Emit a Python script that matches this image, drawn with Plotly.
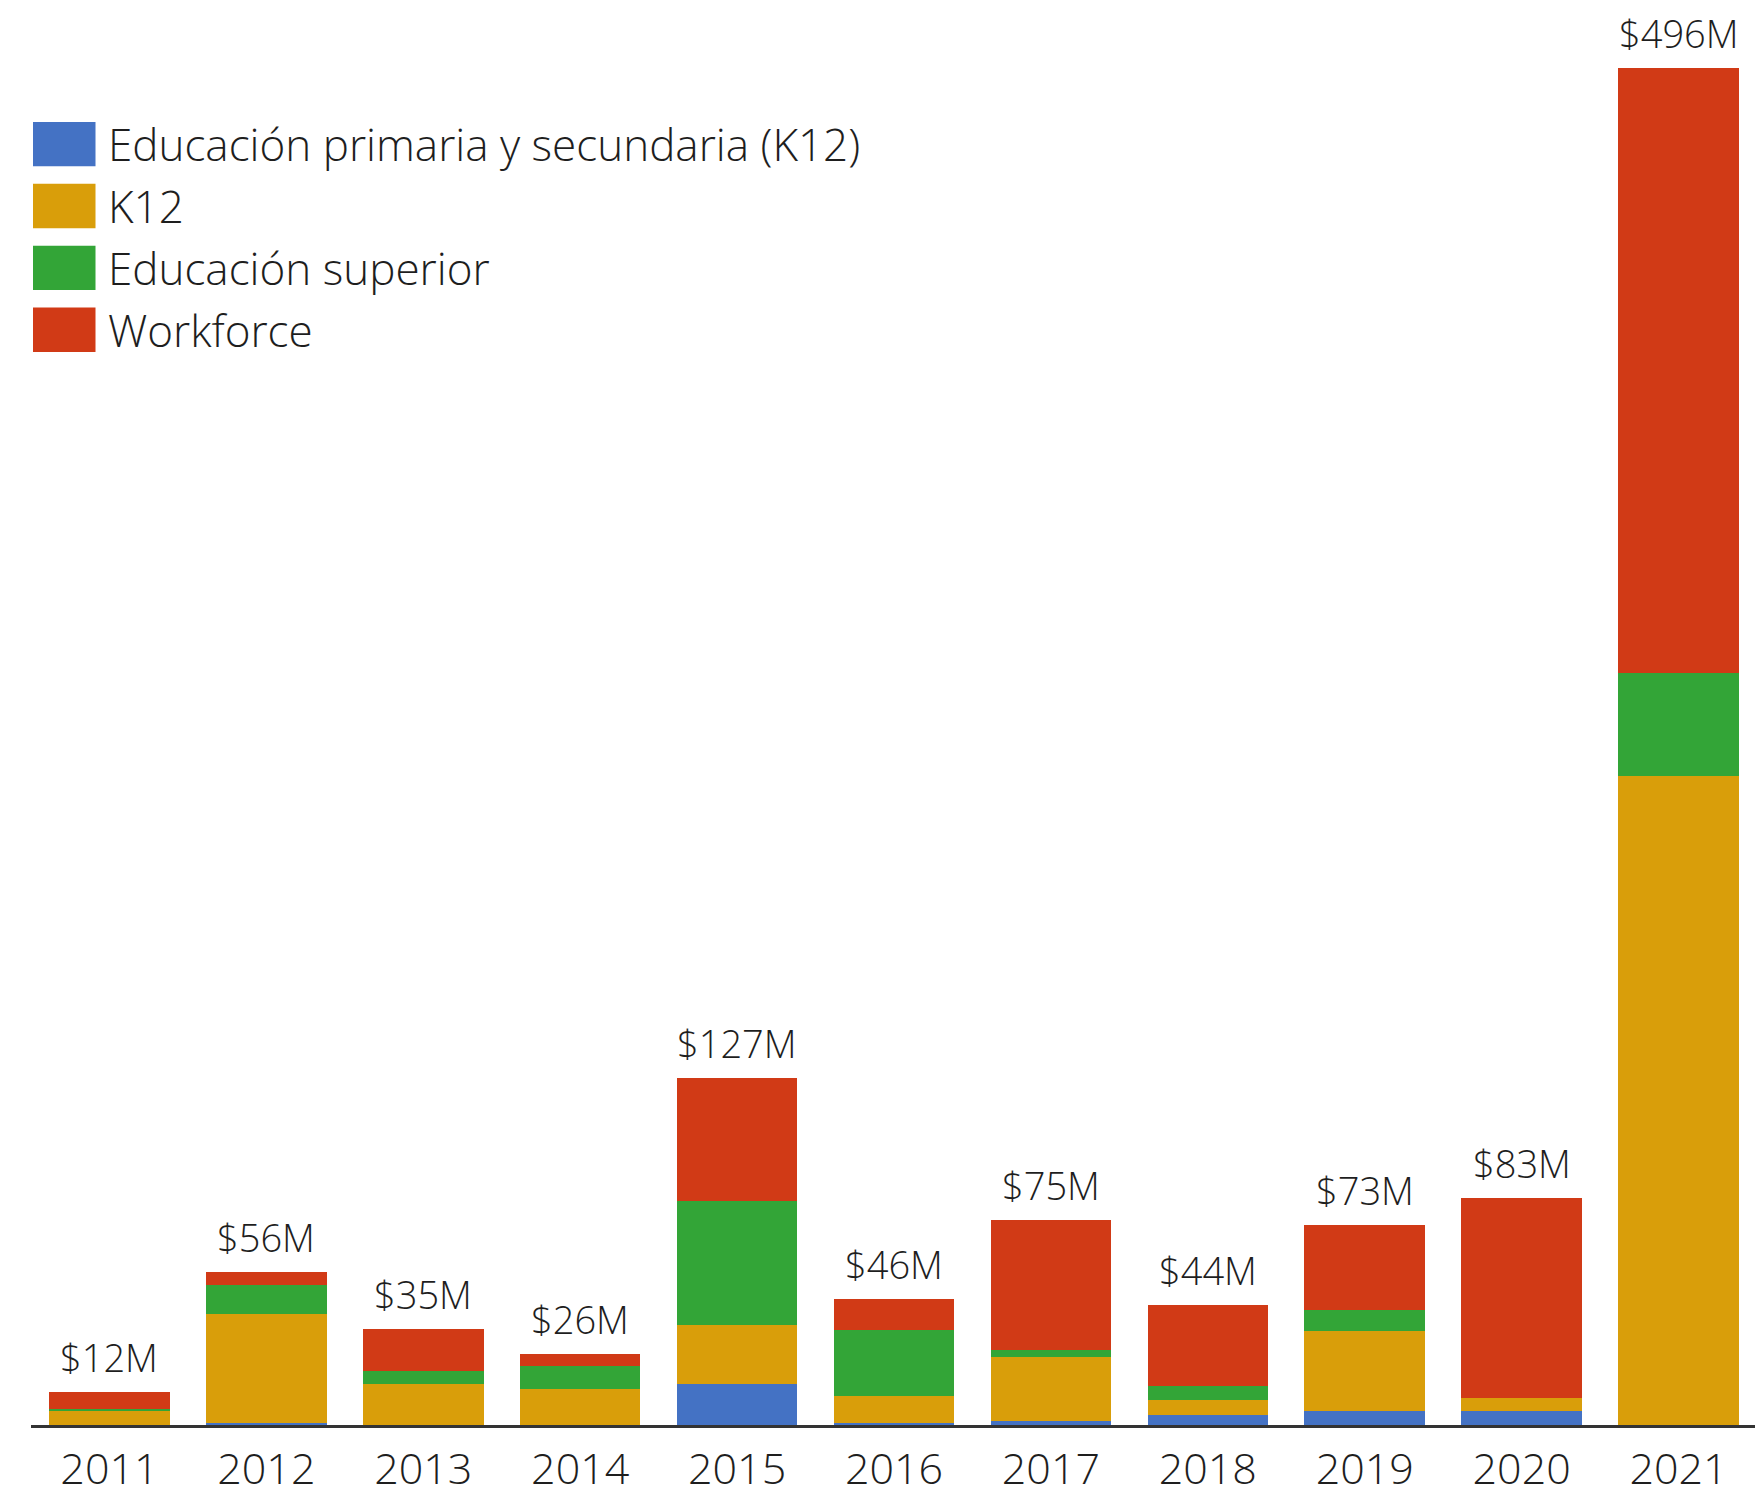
import plotly.graph_objects as go

years = ["2011", "2012", "2013", "2014", "2015", "2016", "2017", "2018", "2019", "2020", "2021"]
primaria_secundaria = [0, 0.8, 0, 0, 15.1, 0.8, 1.5, 3.8, 5.3, 5.3, 0]
k12 = [5.0, 39.6, 15.1, 13.0, 21.5, 9.8, 23.5, 5.3, 29.2, 4.6, 237.1]
educacion_superior = [1.0, 10.8, 4.6, 8.6, 45.4, 24.2, 2.3, 5.3, 7.7, 0, 37.9]
workforce = [6.0, 4.8, 15.3, 4.4, 45.0, 11.2, 47.7, 29.6, 30.8, 73.1, 221.0]
total_labels = ["$12M", "$56M", "$35M", "$26M", "$127M", "$46M", "$75M", "$44M", "$73M", "$83M", "$496M"]

series_names = ["Educación primaria y secundaria (K12)", "K12", "Educación superior", "Workforce"]
series_values = [primaria_secundaria, k12, educacion_superior, workforce]
colors = ["#4472C4", "#D99E0A", "#33A537", "#D13A16"]

FONT = "Open Sans"
TXT = "#1e1e1e"
W, H = 1763, 1501
L, R, T, B = 23, 14, 20, 62
PW, PH = W - L - R, H - T - B

fig = go.Figure()
for name, vals, col in zip(series_names, series_values, colors):
    fig.add_trace(go.Bar(x=years, y=vals, name=name, marker=dict(color=col, line=dict(width=0)),
                         showlegend=False, hoverinfo="x+y+name"))

totals = [sum(v) for v in zip(*series_values)]
for i, (tot, lab) in enumerate(zip(totals, total_labels)):
    # category axes: numeric x is the category index
    fig.add_annotation(x=i, y=tot, text=lab, showarrow=False, yanchor="bottom", yshift=7,
                       font=dict(family=FONT, size=38, color=TXT, weight=300))

def px_x(px):
    return (px - L) / PW

def px_y(py):
    return (H - B - py) / PH

# custom legend with large swatches
row_centers = [138, 200.8, 263.7, 326.5]
for name, col, cy in zip(series_names, colors, row_centers):
    fig.add_shape(type="rect", xref="paper", yref="paper",
                  x0=px_x(25), x1=px_x(87.5), y0=px_y(cy + 22.5), y1=px_y(cy - 22.5),
                  fillcolor=col, line=dict(width=0))
    fig.add_annotation(xref="paper", yref="paper", x=px_x(98), y=px_y(cy), xanchor="left",
                       yanchor="middle", text=name, showarrow=False,
                       font=dict(family=FONT, size=44, color=TXT, weight=300))

fig.update_layout(
    width=W, height=H, barmode="stack", bargap=0.232,
    margin=dict(l=L, r=R, t=T, b=B),
    paper_bgcolor="white", plot_bgcolor="white",
    font=dict(family=FONT, color=TXT),
    showlegend=False,
)
fig.update_xaxes(type="category", range=[-0.5, len(years) - 0.5], showline=True,
                 linecolor="#333333", linewidth=2.5,
                 ticks="", showgrid=False,
                 tickfont=dict(family=FONT, size=43, color=TXT, weight=300),
                 ticklabelstandoff=5)
fig.update_yaxes(range=[0, PH / 2.779], visible=False, showgrid=False, zeroline=False)

fig.write_html("out.html")
